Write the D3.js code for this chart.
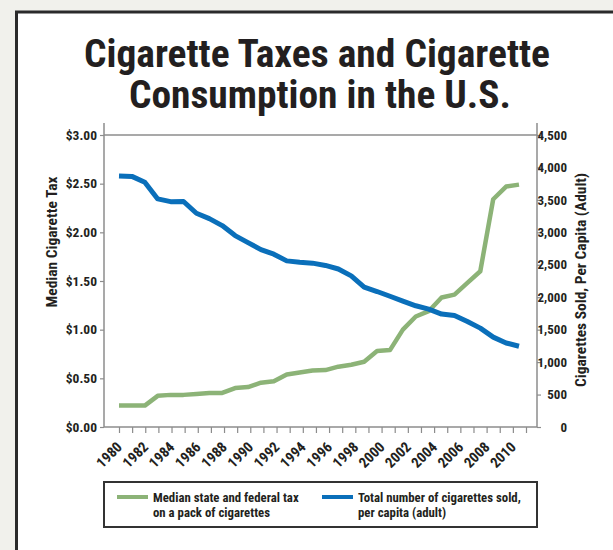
<!DOCTYPE html>
<html>
<head>
<meta charset="utf-8">
<script src="https://cdn.jsdelivr.net/npm/d3@7"></script>
<style>
  html, body { margin: 0; padding: 0; background: #f1f1ec; }
  svg { display: block; }
  text { font-family: "Liberation Sans Narrow", "Roboto Condensed", "DejaVu Sans Condensed", "Arial Narrow", sans-serif; font-weight: bold; font-stretch: condensed; fill: #231f20; }
</style>
</head>
<body>
<svg id="chart" width="613" height="550"></svg>
<script>
const GREEN = "#8cb377";
const BLUE = "#0a6fba";
const AXIS_COLOR = "#8c8c8c";

const years = [1980, 1981, 1982, 1983, 1984, 1985, 1986, 1987, 1988, 1989,
  1990, 1991, 1992, 1993, 1994, 1995, 1996, 1997, 1998, 1999,
  2000, 2001, 2002, 2003, 2004, 2005, 2006, 2007, 2008, 2009, 2010, 2011];

// median state + federal tax per pack ($)
const taxValues = [0.22, 0.22, 0.22, 0.32, 0.33, 0.33, 0.34, 0.35, 0.35, 0.40,
  0.41, 0.455, 0.47, 0.54, 0.56, 0.58, 0.585, 0.62, 0.64, 0.67,
  0.78, 0.79, 1.00, 1.135, 1.19, 1.33, 1.36, 1.48, 1.60, 2.34, 2.47, 2.49];

// cigarettes sold per adult
const salesValues = [3869, 3862, 3772, 3515, 3473, 3475, 3294, 3212, 3104, 2950,
  2842, 2734, 2663, 2560, 2540, 2525, 2490, 2435, 2329, 2155,
  2088, 2015, 1940, 1868, 1817, 1740, 1718, 1626, 1524, 1385, 1295, 1245];

const taxTicks = [0, 0.5, 1, 1.5, 2, 2.5, 3];
const salesTicks = [0, 500, 1000, 1500, 2000, 2500, 3000, 3500, 4000, 4500];
const yearLabels = [1980, 1982, 1984, 1986, 1988, 1990, 1992, 1994, 1996, 1998,
  2000, 2002, 2004, 2006, 2008, 2010];

const titleLines = ["Cigarette Taxes and Cigarette", "Consumption in the U.S."];

const legendItems = [
  { color: GREEN, lines: ["Median state and federal tax", "on a pack of cigarettes"] },
  { color: BLUE, lines: ["Total number of cigarettes sold,", "per capita (adult)"] }
];

const svg = d3.select("#chart");

// white panel with dark frame on left/top
svg.append("rect").attr("x", 16).attr("y", 12).attr("width", 600).attr("height", 540).attr("fill", "#fff");
svg.append("path").attr("d", "M16.5,552 V12 H613").attr("fill", "none").attr("stroke", "#2b2b2b").attr("stroke-width", 3);

// title (one text block, two lines)
const titleX = [317, 320];
const titleY = [67, 108];
const titleW = [466, 382];
svg.append("text").attr("text-anchor", "middle").attr("font-size", 39)
  .selectAll("tspan").data(titleLines).join("tspan")
  .attr("x", (d, i) => titleX[i]).attr("y", (d, i) => titleY[i])
  .attr("textLength", (d, i) => titleW[i]).attr("lengthAdjust", "spacingAndGlyphs")
  .text(d => d);

const plotLeft = 104, plotRight = 537, plotTop = 135, plotBottom = 427;

const x = d3.scaleLinear().domain([1980, 2011]).range([119, 526]);
// data vertices sit slightly inside the tick spacing in the original
const xData = d3.scaleLinear().domain([1980, 2011]).range([119, 519]);
const yTax = d3.scaleLinear().domain([0, 3]).range([plotBottom, plotTop]);
const ySales = d3.scaleLinear().domain([0, 4500]).range([plotBottom, plotTop]);

// top frame line
svg.append("line").attr("x1", plotLeft).attr("x2", plotRight).attr("y1", plotTop).attr("y2", plotTop)
  .attr("stroke", AXIS_COLOR).attr("stroke-width", 1.5);

// left axis
const leftAxis = svg.append("g").attr("transform", `translate(${plotLeft},0)`)
  .call(d3.axisLeft(yTax).tickValues(taxTicks).tickSize(4).tickPadding(3)
    .tickFormat(d => "$" + d3.format(".2f")(d)));
leftAxis.select(".domain").remove();
leftAxis.append("line").attr("x1", 0).attr("x2", 0).attr("y1", 123).attr("y2", plotBottom)
  .attr("stroke", AXIS_COLOR).attr("stroke-width", 1.5);
leftAxis.selectAll(".tick line").attr("stroke", AXIS_COLOR).attr("stroke-width", 1.2);
leftAxis.selectAll(".tick text").attr("font-size", 13.5).attr("fill", "#231f20");

// right axis
const rightAxis = svg.append("g").attr("transform", `translate(${plotRight},0)`)
  .call(d3.axisRight(ySales).tickValues(salesTicks).tickSize(4).tickPadding(3)
    .tickFormat(d3.format(",")));
rightAxis.select(".domain").remove();
rightAxis.append("line").attr("x1", 0).attr("x2", 0).attr("y1", 123).attr("y2", plotBottom)
  .attr("stroke", AXIS_COLOR).attr("stroke-width", 1.5);
rightAxis.selectAll(".tick line").attr("stroke", AXIS_COLOR).attr("stroke-width", 1.2);
rightAxis.selectAll(".tick text").attr("font-size", 13).attr("fill", "#231f20")
  .attr("text-anchor", "end").attr("x", 30);

// bottom axis
const bottomAxis = svg.append("g").attr("transform", `translate(0,${plotBottom})`)
  .call(d3.axisBottom(x).tickValues(years).tickSize(6).tickFormat(""));
bottomAxis.select(".domain").remove();
bottomAxis.append("line").attr("x1", plotLeft).attr("x2", plotRight).attr("y1", 0).attr("y2", 0)
  .attr("stroke", AXIS_COLOR).attr("stroke-width", 1.5);
bottomAxis.selectAll(".tick line").attr("stroke", AXIS_COLOR).attr("stroke-width", 1.2);

svg.append("g").selectAll("text").data(yearLabels).join("text")
  .attr("transform", d => `translate(${x(d) + 4},448) rotate(-45)`)
  .attr("text-anchor", "end").attr("font-size", 14.5)
  .text(d => d);

// axis titles
svg.append("text").attr("transform", "translate(57,242) rotate(-90)")
  .attr("text-anchor", "middle").attr("font-size", 15.5).text("Median Cigarette Tax");
svg.append("text").attr("transform", "translate(586,280) rotate(-90)")
  .attr("text-anchor", "middle").attr("font-size", 15.5).text("Cigarettes Sold, Per Capita (Adult)");

// lines
const taxLine = d3.line().x((d, i) => xData(years[i])).y(d => yTax(d));
const salesLine = d3.line().x((d, i) => xData(years[i])).y(d => ySales(d));

svg.append("path").datum(taxValues).attr("d", taxLine)
  .attr("fill", "none").attr("stroke", GREEN).attr("stroke-width", 4.5).attr("stroke-linejoin", "round");
svg.append("path").datum(salesValues).attr("d", salesLine)
  .attr("fill", "none").attr("stroke", BLUE).attr("stroke-width", 5).attr("stroke-linejoin", "round");

// legend
const legend = svg.append("g");
legend.append("rect").attr("x", 104).attr("y", 482).attr("width", 433).attr("height", 45)
  .attr("fill", "#fff").attr("stroke", "#333").attr("stroke-width", 2);
const legendX = [117, 322];
legendItems.forEach((item, i) => {
  const g = legend.append("g").attr("transform", `translate(${legendX[i]},0)`);
  g.append("line").attr("x1", 0).attr("x2", 31).attr("y1", 497).attr("y2", 497)
    .attr("stroke", item.color).attr("stroke-width", 4);
  item.lines.forEach((t, j) => {
    g.append("text").attr("x", 36).attr("y", 502 + j * 15).attr("font-size", 12.8).text(t);
  });
});
</script>
</body>
</html>
